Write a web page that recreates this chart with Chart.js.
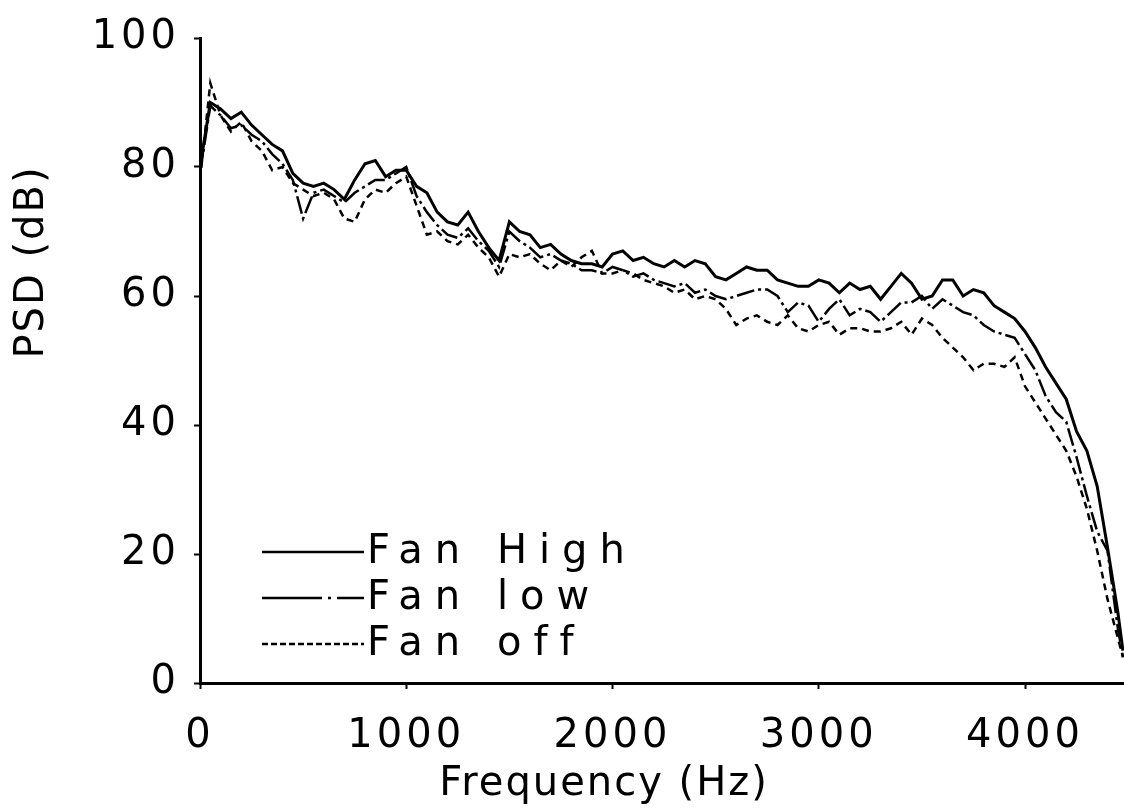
<!DOCTYPE html>
<html><head><meta charset="utf-8">
<script src="https://cdn.jsdelivr.net/npm/chart.js@4/dist/chart.umd.min.js"></script>
<style>html,body{margin:0;padding:0;background:#fff;overflow:hidden}#wrap{width:1124px;height:812px;position:relative}</style>
</head><body><div id="wrap"><canvas id="c" width="1124" height="812"></canvas></div>
<script>
const freqs = [0,50,100,150,200,250,300,350,400,450,500,550,600,650,700,750,800,850,900,950,
1000,1050,1100,1150,1200,1250,1300,1350,1400,1450,1500,1550,1600,1650,1700,1750,1800,1850,1900,1950,
2000,2050,2100,2150,2200,2250,2300,2350,2400,2450,2500,2550,2600,2650,2700,2750,2800,2850,2900,2950,
3000,3050,3100,3150,3200,3250,3300,3350,3400,3450,3500,3550,3600,3650,3700,3750,3800,3850,3900,3950,
4000,4050,4100,4150,4200,4250,4300,4350,4400,4450,4475];
const fanHigh = [80,90,89,87.5,88.5,86.5,85,83.5,82.5,79,77.5,77,77.5,76.5,75,78,80.5,81,78.5,79.5,
79.5,77,76,73,71.5,71,73,70,67.5,65.5,71.5,70,69.5,67.5,68,66.5,65.5,65,65,64.5,
66.5,67,65.5,66,65,64.5,65.5,64.5,65.5,65,63,62.5,63.5,64.5,64,64,62.5,62,61.5,61.5,
62.5,62,60.5,62,61,61.5,59.5,61.5,63.5,62,59.5,60,62.5,62.5,60,61,60.5,58.5,57.5,56.5,
54.5,52,49,46.5,44,39,36,30.5,21,11,5];
const fanLow = [79,89.5,88,86,86.5,85,84,82,80.5,78,72,76,76.5,75.5,74.5,76,77,78,78,79,
80,75.5,73,71,69.5,69,70.5,68.5,67,64.5,70,68.5,67.5,66,66.5,65.5,65,64,64,63.5,
64.5,64,63,63.5,62.5,62,61.5,62,60.5,61,60,59.5,60,60.5,61,61,60,57.5,59,58.5,
56,58,59.5,57,58,57.5,56,57.5,59,59,60,58,59.5,58.5,57.5,57,55.5,54.5,54,53.5,
51,48.5,44.5,42,40.5,35,29,23.5,20.5,8.5,4];
const fanOff = [78,93,88,85.5,87,84,82.5,79.5,80,77.5,76.5,75.5,76,75,72,71.5,75,76.5,76,77.5,
78.5,74,69.5,70,68.5,68,69.5,67.5,66,63,66.5,66,66.5,65,64,65.5,64.5,66,67,63.5,
63.5,64,63.5,62.5,62,61.5,60.5,61,59.5,60,59.5,58,55.5,56.5,57,56,55.5,57,55,54.5,
55.5,56,54,55,55,54.5,54.5,55,56,54,56.5,55.5,53.5,52,50.5,48.5,49.5,49.5,49,50.5,
46,43.5,41,38.5,36,32,27,20.5,13,7,4];
const seriesNames = ['Fan High','Fan low','Fan off'];
const xTickValues = [0,1000,2000,3000,4000];
const yTickValues = [0,20,40,60,80,100];
const xTitle = 'Frequency (Hz)';
const yTitle = 'PSD (dB)';

const FONT = 'DejaVu Sans';
const toXY = arr => freqs.map((f,i)=>({x:f,y:arr[i]}));

const spacingPlugin = {
  id:'spacing',
  beforeUpdate(c){ c.ctx.letterSpacing='4px'; },
  beforeLayout(c){ c.ctx.letterSpacing='4px'; },
  beforeDraw(c){ c.ctx.letterSpacing='4px'; }
};

const extrasPlugin = {
  id:'extras',
  afterDraw(c){
    const ctx=c.ctx;
    // y title
    ctx.save();
    ctx.letterSpacing='2px';
    ctx.fillStyle='#000';
    ctx.font='40px "'+FONT+'"';
    ctx.translate(33,262);
    ctx.rotate(-Math.PI/2);
    ctx.textAlign='center';
    ctx.textBaseline='middle';
    ctx.fillText(yTitle,0,0);
    ctx.restore();
    // x title
    ctx.save();
    ctx.letterSpacing='2px';
    ctx.fillStyle='#000';
    ctx.font='40px "'+FONT+'"';
    ctx.textAlign='center';
    ctx.textBaseline='alphabetic';
    ctx.fillText(xTitle,604,795);
    ctx.restore();
    // legend
    const rows=[552,598,644];
    c.data.datasets.forEach((ds,i)=>{
      const y=rows[i];
      ctx.save();
      ctx.strokeStyle='#000';
      ctx.lineWidth=2.5;
      ctx.setLineDash(ds.legendDash||[]);
      ctx.beginPath();ctx.moveTo(262,y);ctx.lineTo(364,y);ctx.stroke();
      ctx.setLineDash([]);
      ctx.letterSpacing='12px';
      ctx.font='40px "'+FONT+'"';
      ctx.fillStyle='#000';
      ctx.textAlign='left';
      ctx.textBaseline='middle';
      ctx.fillText(ds.label,367,y+1);
      ctx.restore();
    });
  }
};

new Chart(document.getElementById('c'),{
  type:'line',
  data:{datasets:[
    {label:seriesNames[0],data:toXY(fanHigh),borderColor:'#000',borderWidth:3,pointRadius:0,tension:0,legendDash:[]},
    {label:seriesNames[1],data:toXY(fanLow),borderColor:'#000',borderWidth:2.5,pointRadius:0,tension:0,borderDash:[18,4,3,4],legendDash:[60,6,3,6]},
    {label:seriesNames[2],data:toXY(fanOff),borderColor:'#000',borderWidth:2.5,pointRadius:0,tension:0,borderDash:[7,5],legendDash:[6,3]}
  ]},
  options:{
    responsive:false,animation:false,devicePixelRatio:1,
    layout:{padding:{top:28,right:0,left:0,bottom:0}},
    plugins:{legend:{display:false},tooltip:{enabled:false}},
    scales:{
      x:{type:'linear',min:0,max:4480,
        afterBuildTicks:s=>{s.ticks=xTickValues.map(v=>({value:v}));},
        afterFit:s=>{s.height=129;},
        grid:{drawOnChartArea:false,drawTicks:true,tickLength:6,color:'#000',tickWidth:2},
        border:{display:true,color:'#000',width:3},
        ticks:{font:{family:FONT,size:40},color:'#000',padding:24,maxRotation:0,autoSkip:false,
          callback:v=>String(v)}
      },
      y:{type:'linear',min:0,max:100,
        afterBuildTicks:s=>{s.ticks=yTickValues.map(v=>({value:v}));},
        afterFit:s=>{s.width=200;},
        grid:{drawOnChartArea:false,drawTicks:true,tickLength:6,color:'#000',tickWidth:2},
        border:{display:true,color:'#000',width:3},
        ticks:{font:{family:FONT,size:40},color:'#000',padding:14,autoSkip:false,
          callback:v=>String(v)}
      }
    }
  },
  plugins:[spacingPlugin,extrasPlugin]
});
</script></body></html>
